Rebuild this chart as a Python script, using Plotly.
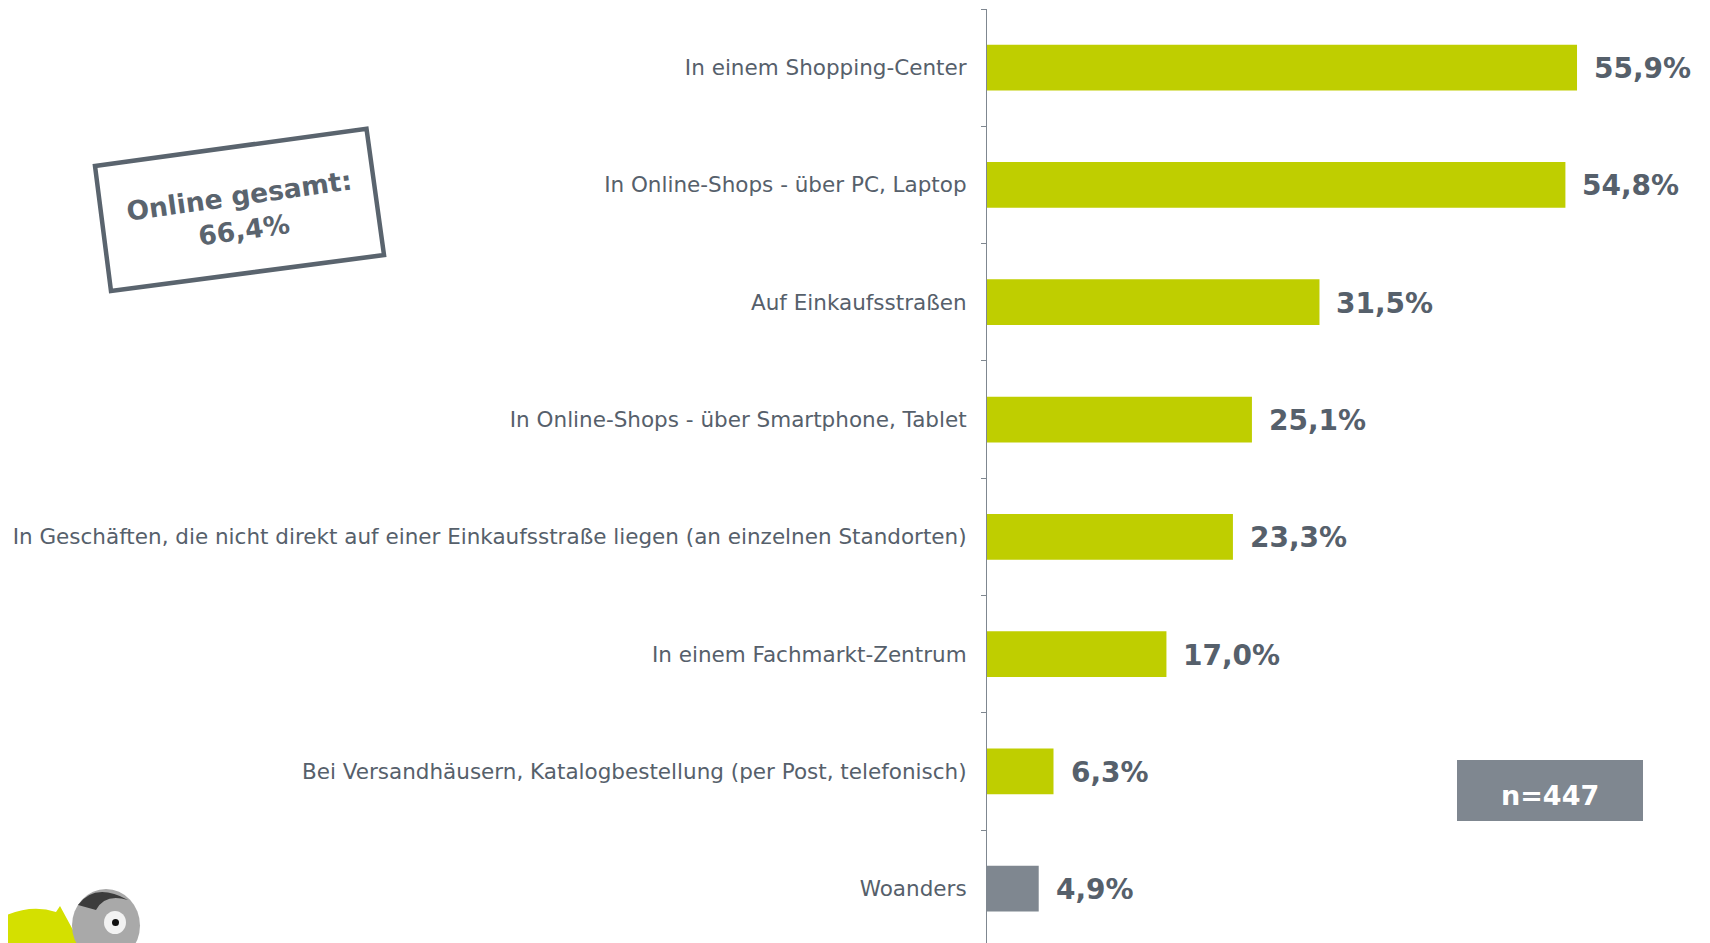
import plotly.graph_objects as go

categories = [
    "In einem Shopping-Center",
    "In Online-Shops - über PC, Laptop",
    "Auf Einkaufsstraßen",
    "In Online-Shops - über Smartphone, Tablet",
    "In Geschäften, die nicht direkt auf einer Einkaufsstraße liegen (an einzelnen Standorten)",
    "In einem Fachmarkt-Zentrum",
    "Bei Versandhäusern, Katalogbestellung (per Post, telefonisch)",
    "Woanders",
]
values = [55.9, 54.8, 31.5, 25.1, 23.3, 17.0, 6.3, 4.9]
value_labels = ["55,9%", "54,8%", "31,5%", "25,1%", "23,3%", "17,0%", "6,3%", "4,9%"]
online_total_label = "Online gesamt:<br>66,4%"
sample_label = "n=447"

GREEN = "#bfce00"
GRAY = "#7f8790"
TEXT = "#56606b"
BOX = "#5a646e"

W, H = 1710, 943
OFF = 8  # browser body margin
ML, MR, MT, MB = 979, 10, 1, 0
PW, PH = W - ML - MR, H - MT - MB


def px(x):
    return (x - OFF - ML) / PW


def py(y):
    return (H - MB - (y - OFF)) / PH


colors = [GRAY if c == "Woanders" else GREEN for c in categories]

fig = go.Figure()
fig.add_trace(go.Bar(
    x=values, y=categories, orientation="h",
    marker=dict(color=colors, line=dict(width=0)),
    hoverinfo="skip",
))

for c, v, lab in zip(categories, values, value_labels):
    fig.add_annotation(
        x=v, y=c, xref="x", yref="y", text=lab, showarrow=False,
        xanchor="left", yanchor="middle", xshift=15, yshift=-1,
        font=dict(family="DejaVu Sans", size=28, color=TEXT, weight="bold"),
    )

# rotated box "Online gesamt"
corners = [(95, 166), (366.5, 128.7), (384, 255), (111, 291)]
path = "M " + " L ".join(f"{px(x):.5f},{py(y):.5f}" for x, y in corners) + " Z"
fig.add_shape(type="path", xref="paper", yref="paper", path=path,
              line=dict(color=BOX, width=4.5), fillcolor="rgba(0,0,0,0)")
fig.add_annotation(
    x=px(241), y=py(213), xref="paper", yref="paper",
    text=online_total_label, showarrow=False, textangle=-8,
    font=dict(family="DejaVu Sans", size=26.5, color=BOX, weight="bold"),
    align="center", xanchor="center", yanchor="middle",
)

# n=447 box
fig.add_shape(type="rect", xref="paper", yref="paper",
              x0=px(1457), x1=px(1643), y0=py(821), y1=py(760),
              fillcolor=GRAY, line=dict(width=0))
fig.add_annotation(
    x=px(1550), y=py(795), xref="paper", yref="paper",
    text=sample_label, showarrow=False,
    font=dict(family="DejaVu Sans", size=27, color="white", weight="bold"),
    xanchor="center", yanchor="middle",
)

# small mascot logo in bottom-left corner
fig.add_shape(type="path", xref="paper", yref="paper",
              path=(f"M {px(0)},{py(918)} Q {px(30)},{py(903)} {px(56)},{py(912)} "
                    f"L {px(60)},{py(906)} L {px(80)},{py(943)} L {px(0)},{py(943)} Z"),
              fillcolor="#d4e000", line=dict(width=0))
fig.add_shape(type="circle", xref="paper", yref="paper",
              x0=px(72), x1=px(140), y0=py(962), y1=py(889),
              fillcolor="#a9a9a9", line=dict(width=0))
fig.add_shape(type="path", xref="paper", yref="paper",
              path=(f"M {px(78)},{py(905)} Q {px(95)},{py(882)} {px(128)},{py(900)} "
                    f"Q {px(105)},{py(893)} {px(96)},{py(910)} Z"),
              fillcolor="#3c3c3c", line=dict(width=0))
fig.add_shape(type="circle", xref="paper", yref="paper",
              x0=px(104), x1=px(126), y0=py(934), y1=py(911),
              fillcolor="#f2f2f2", line=dict(width=0))
fig.add_shape(type="circle", xref="paper", yref="paper",
              x0=px(112), x1=px(119), y0=py(926), y1=py(919),
              fillcolor="#111111", line=dict(width=0))

fig.update_layout(
    width=W, height=H,
    margin=dict(l=ML, r=MR, t=MT, b=MB),
    paper_bgcolor="white", plot_bgcolor="white",
    showlegend=False, bargap=0.61,
    font=dict(family="DejaVu Sans", color=TEXT),
)
fig.update_xaxes(range=[0, PW / 10.555], visible=False, fixedrange=True)
fig.update_yaxes(
    type="category", categoryorder="array", categoryarray=categories,
    range=[7.531, -0.5],
    showline=True, linecolor=GRAY, linewidth=1.2,
    ticks="outside", tickson="boundaries", ticklen=5, tickcolor=GRAY,
    tickfont=dict(family="DejaVu Sans", size=21.5, color=TEXT),
    ticklabelstandoff=15, showgrid=False, zeroline=False, fixedrange=True,
)

fig.write_html("out.html")
